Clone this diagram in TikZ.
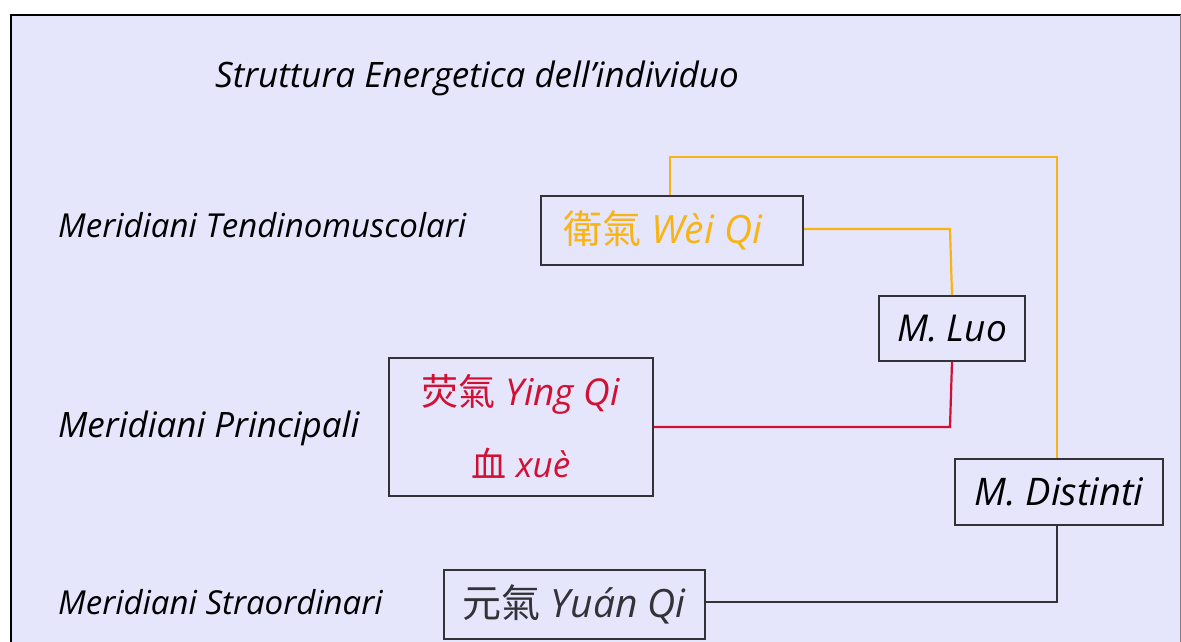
\documentclass[tikz,border=0pt]{standalone}
\usepackage{fontspec}
\setmainfont{Open Sans}
\newfontfamily\cjk{Noto Sans CJK TC}
\definecolor{bgl}{RGB}{229,229,252}
\definecolor{weio}{RGB}{248,180,20}
\definecolor{yingr}{RGB}{210,16,52}
\definecolor{dk}{RGB}{50,50,55}
\tikzset{
  box/.style={draw=dk, line width=2pt, fill=bgl, inner sep=0pt, anchor=north west},
  lbl/.style={font=\fontsize{33}{36}\selectfont\itshape, anchor=west, inner sep=0pt},
  con/.style={line width=2.2pt}
}
\begin{document}
\begin{tikzpicture}[x=1pt,y=-1pt]
\useasboundingbox (0,0) rectangle (1181,642);
\fill[bgl] (11,15) rectangle (1181,642);
\draw[black, line width=2pt] (11,643) -- (11,15) -- (1181,15);
\draw[gray, line width=1pt] (1180,15) -- (1180,642);
\node[lbl, font=\fontsize{35}{38}\selectfont\itshape] (title) at (215,78) {Struttura Energetica dell’individuo};
\node[lbl] (lt) at (58,225) {Meridiani Tendinomuscolari};
\node[lbl, font=\fontsize{35}{38}\selectfont\itshape] (lp) at (58,428) {Meridiani Principali};
\node[lbl] (ls) at (58,602) {Meridiani Straordinari};
% boxes
\node[box, minimum width=262pt, minimum height=69pt] (wei) at (540,195) {};
\node[text=weio, font=\fontsize{39}{42}\selectfont] at ([xshift=-9pt]wei.center) {{\cjk 衛氣} \textit{Wèi Qi}};
\node[box, minimum width=146pt, minimum height=65pt] (luo) at (878,295) {};
\node[font=\fontsize{37}{40}\selectfont\itshape] at (luo.center) {M. Luo};
\node[box, minimum width=264pt, minimum height=138pt] (ying) at (388,357) {};
\node[text=yingr, font=\fontsize{37}{40}\selectfont] at ([yshift=33pt]ying.center) {{\cjk 荧氣} \textit{Ying Qi}};
\node[text=yingr, font=\fontsize{35}{40}\selectfont] at ([yshift=-36pt]ying.center) {{\cjk 血} \textit{xuè}};
\node[box, minimum width=208pt, minimum height=66pt] (dis) at (954,458) {};
\node[font=\fontsize{38}{40}\selectfont\itshape] at (dis.center) {M. Distinti};
\node[box, minimum width=261pt, minimum height=69pt] (yuan) at (443,569) {};
\node[text=dk, font=\fontsize{39}{42}\selectfont] at (yuan.center) {{\cjk 元氣} \textit{Yuán Qi}};
% connectors
\coordinate (c1) at (670,157);
\coordinate (c2) at (1057,157);
\draw[con, weio] (wei.north west -| c1) -- (c1) -- (c2) -- (dis.north -| c2);
\draw[con, weio] (wei.east |- 0,229) -- (950,229) -- (luo.north);
\draw[con, yingr] (luo.south) -- (950,427) -- (ying.east |- 0,427);
\draw[con, dk] (dis.south -| c2) -- (1057,602) -- (yuan.east |- 0,602);
\end{tikzpicture}
\end{document}
